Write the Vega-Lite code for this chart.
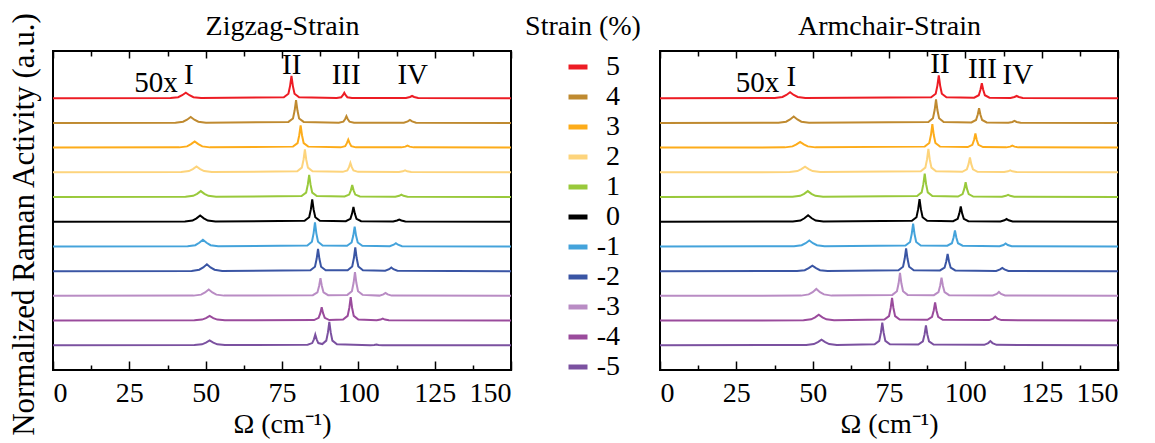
{
 "$schema": "https://vega.github.io/schema/vega-lite/v6.json",
 "padding": {"left": 7, "top": 10, "right": 0, "bottom": 0},
 "datasets": {
  "spec": [
   {"p":"Z","s":"5","x":[0,38.5,41,42.3,43.5,44.7,46,48.5,75.6,77.1,77.65,78.1,78.55,79.1,80.6,92.9,94.4,94.95,95.4,95.85,96.4,97.9,115.6,116.9,117.6,118.3,119.6,150],"y":[10,10.01,10.04,10.12,10.22,10.12,10.04,10.01,10.04,10.18,10.5,10.9,10.5,10.18,10.04,10.01,10.04,10.12,10.22,10.12,10.04,10.01,10.01,10.05,10.09,10.05,10.01,10]},
   {"p":"Z","s":"4","x":[0,40.1,42.6,43.9,45.1,46.3,47.6,50.1,77.1,78.6,79.15,79.6,80.05,80.6,82.1,93.6,95.1,95.65,96.1,96.55,97.1,98.6,114.9,116.2,116.9,117.6,118.9,150],"y":[9,9.01,9.05,9.13,9.24,9.13,9.05,9.01,9.04,9.18,9.51,9.92,9.51,9.18,9.04,9.01,9.05,9.15,9.27,9.15,9.05,9.01,9.01,9.06,9.12,9.06,9.01,9]},
   {"p":"Z","s":"3","x":[0,41.4,43.9,45.2,46.4,47.6,48.9,51.4,78.6,80.1,80.65,81.1,81.55,82.1,83.6,94.2,95.7,96.25,96.7,97.15,97.7,99.2,114.1,115.4,116.1,116.8,118.1,150],"y":[8,8.01,8.05,8.14,8.25,8.14,8.05,8.01,8.04,8.18,8.5,8.9,8.5,8.18,8.04,8.01,8.06,8.18,8.32,8.18,8.06,8.01,8.01,8.04,8.08,8.04,8.01,8]},
   {"p":"Z","s":"2","x":[0,42,44.5,45.8,47,48.2,49.5,52,80,81.5,82.05,82.5,82.95,83.5,85,94.9,96.4,96.95,97.4,97.85,98.4,99.9,113.3,114.6,115.3,116,117.3,150],"y":[7,7.01,7.05,7.13,7.24,7.13,7.05,7.01,7.04,7.19,7.51,7.93,7.51,7.19,7.04,7.02,7.08,7.21,7.38,7.21,7.08,7.02,7.01,7.04,7.08,7.04,7.01,7]},
   {"p":"Z","s":"1","x":[0,43.4,45.9,47.2,48.4,49.6,50.9,53.4,81.4,82.9,83.45,83.9,84.35,84.9,86.4,95.5,97,97.55,98,98.45,99,100.5,112.1,113.4,114.1,114.8,116.1,150],"y":[6,6.01,6.05,6.13,6.24,6.13,6.05,6.01,6.04,6.18,6.5,6.9,6.5,6.18,6.04,6.02,6.1,6.27,6.49,6.27,6.1,6.02,6.01,6.05,6.1,6.05,6.01,6]},
   {"p":"Z","s":"0","x":[0,43.2,45.7,47,48.2,49.4,50.7,53.2,82.4,83.9,84.45,84.9,85.35,85.9,87.4,95.9,97.4,97.95,98.4,98.85,99.4,100.9,111.4,112.7,113.4,114.1,115.4,150],"y":[5,5.01,5.05,5.14,5.25,5.14,5.05,5.01,5.04,5.18,5.5,5.9,5.5,5.18,5.04,5.02,5.12,5.33,5.6,5.33,5.12,5.02,5.01,5.05,5.09,5.05,5.01,5]},
   {"p":"Z","s":"-1","x":[0,44.1,46.6,47.9,49.1,50.3,51.6,54.1,83.3,84.8,85.35,85.8,86.25,86.8,88.3,96.3,97.8,98.35,98.8,99.25,99.8,101.3,110.3,111.6,112.3,113,114.3,150],"y":[4,4.01,4.05,4.15,4.27,4.15,4.05,4.01,4.04,4.19,4.53,4.97,4.53,4.19,4.04,4.03,4.16,4.44,4.8,4.44,4.16,4.03,4.01,4.07,4.13,4.07,4.01,4]},
   {"p":"Z","s":"-2","x":[0,45.4,47.9,49.2,50.4,51.6,52.9,55.4,84.3,85.8,86.35,86.8,87.25,87.8,89.3,96.5,98,98.55,99,99.45,100,101.5,108.8,110.1,110.8,111.5,112.8,150],"y":[3,3.01,3.06,3.15,3.28,3.15,3.06,3.01,3.04,3.18,3.5,3.9,3.5,3.18,3.04,3.04,3.19,3.53,3.96,3.53,3.19,3.04,3.02,3.08,3.15,3.08,3.02,3]},
   {"p":"Z","s":"-3","x":[0,46,48.5,49.8,51,52.2,53.5,56,85.1,86.6,87.15,87.6,88.05,88.6,90.1,96.4,97.9,98.45,98.9,99.35,99.9,101.4,106.9,108.2,108.9,109.6,110.9,150],"y":[2,2.01,2.05,2.14,2.26,2.14,2.05,2.01,2.03,2.14,2.4,2.72,2.4,2.14,2.03,2.04,2.19,2.53,2.96,2.53,2.19,2.04,2.01,2.06,2.12,2.06,2.01,2]},
   {"p":"Z","s":"-4","x":[0,46.3,48.8,50.1,51.3,52.5,53.8,56.3,85.5,87,87.55,88,88.45,89,90.5,95,96.5,97.05,97.5,97.95,98.5,100,106,107.3,108,108.7,110,150],"y":[1,1.01,1.04,1.1,1.19,1.1,1.04,1.01,1.02,1.11,1.3,1.54,1.3,1.11,1.02,1.04,1.19,1.52,1.95,1.52,1.19,1.04,1.01,1.04,1.08,1.04,1.01,1]},
   {"p":"Z","s":"-5","x":[0,46.3,48.8,50.1,51.3,52.5,53.8,56.3,83.4,84.9,85.45,85.9,86.35,86.9,88.2,89.5,90.05,90.5,90.95,91.5,93,103.9,105.2,105.9,106.6,107.9,150],"y":[0,0.01,0.04,0.11,0.2,0.11,0.04,0.01,0.02,0.09,0.24,0.43,0.24,0.09,0.05,0.19,0.52,0.95,0.52,0.19,0.04,0,0.01,0.03,0.01,0,0]},
   {"p":"A","s":"5","x":[0,37.6,40.1,41.4,42.6,43.8,45.1,47.6,88.8,90.3,90.85,91.3,91.75,92.3,93.8,102.9,104.4,104.95,105.4,105.85,106.4,107.9,114.8,116.1,116.8,117.5,118.8,150],"y":[10,10.01,10.05,10.13,10.24,10.13,10.05,10.01,10.04,10.18,10.51,10.92,10.51,10.18,10.04,10.02,10.12,10.34,10.61,10.34,10.12,10.02,10.01,10.05,10.09,10.05,10.01,10]},
   {"p":"A","s":"4","x":[0,38.8,41.3,42.6,43.8,45,46.3,48.8,87.9,89.4,89.95,90.4,90.85,91.4,92.9,102,103.5,104.05,104.5,104.95,105.5,107,114.1,115.4,116.1,116.8,118.1,150],"y":[9,9.01,9.05,9.14,9.26,9.14,9.05,9.01,9.04,9.19,9.52,9.95,9.52,9.19,9.04,9.02,9.12,9.33,9.6,9.33,9.12,9.02,9.01,9.04,9.08,9.04,9.01,9]},
   {"p":"A","s":"3","x":[0,40.9,43.4,44.7,45.9,47.1,48.4,50.9,86.7,88.2,88.75,89.2,89.65,90.2,91.7,100.8,102.3,102.85,103.3,103.75,104.3,105.8,113.4,114.7,115.4,116.1,117.4,150],"y":[8,8.01,8.05,8.13,8.23,8.13,8.05,8.01,8.04,8.19,8.52,8.95,8.52,8.19,8.04,8.02,8.11,8.31,8.57,8.31,8.11,8.02,8.01,8.04,8.08,8.04,8.01,8]},
   {"p":"A","s":"2","x":[0,42.5,45,46.3,47.5,48.7,50,52.5,85.4,86.9,87.45,87.9,88.35,88.9,90.4,99,100.5,101.05,101.5,101.95,102.5,104,112.7,114,114.7,115.4,116.7,150],"y":[7,7.01,7.05,7.13,7.23,7.13,7.05,7.01,7.04,7.19,7.52,7.95,7.52,7.19,7.04,7.02,7.12,7.33,7.6,7.33,7.12,7.02,7.01,7.04,7.08,7.04,7.01,7]},
   {"p":"A","s":"1","x":[0,43.4,45.9,47.2,48.4,49.6,50.9,53.4,84.2,85.7,86.25,86.7,87.15,87.7,89.2,97.6,99.1,99.65,100.1,100.55,101.1,102.6,112,113.3,114,114.7,116,150],"y":[6,6.01,6.05,6.13,6.24,6.13,6.05,6.01,6.04,6.19,6.52,6.95,6.52,6.19,6.04,6.02,6.12,6.33,6.6,6.33,6.12,6.02,6.01,6.05,6.09,6.05,6.01,6]},
   {"p":"A","s":"0","x":[0,43.5,46,47.3,48.5,49.7,51,53.5,82.5,84,84.55,85,85.45,86,87.5,96,97.5,98.05,98.5,98.95,99.5,101,111.5,112.8,113.5,114.2,115.5,150],"y":[5,5.01,5.05,5.14,5.26,5.14,5.05,5.01,5.04,5.18,5.51,5.92,5.51,5.18,5.04,5.02,5.12,5.34,5.62,5.34,5.12,5.02,5.01,5.06,5.11,5.06,5.01,5]},
   {"p":"A","s":"-1","x":[0,43.9,46.4,47.7,48.9,50.1,51.4,53.9,80.4,81.9,82.45,82.9,83.35,83.9,85.4,94.1,95.6,96.15,96.6,97.05,97.6,99.1,111.2,112.5,113.2,113.9,115.2,150],"y":[4,4.01,4.05,4.13,4.24,4.13,4.05,4.01,4.04,4.18,4.51,4.92,4.51,4.18,4.04,4.03,4.13,4.36,4.65,4.36,4.13,4.03,4.01,4.06,4.12,4.06,4.01,4]},
   {"p":"A","s":"-2","x":[0,44.9,47.4,48.7,49.9,51.1,52.4,54.9,78.1,79.6,80.15,80.6,81.05,81.6,83.1,91.7,93.2,93.75,94.2,94.65,95.2,96.7,110.1,111.4,112.1,112.8,114.1,150],"y":[3,3.01,3.04,3.12,3.22,3.12,3.04,3.01,3.04,3.18,3.51,3.92,3.51,3.18,3.04,3.03,3.14,3.39,3.7,3.39,3.14,3.03,3.01,3.07,3.13,3.07,3.01,3]},
   {"p":"A","s":"-3","x":[0,46.2,48.7,50,51.2,52.4,53.7,56.2,76.1,77.6,78.15,78.6,79.05,79.6,81.1,89.7,91.2,91.75,92.2,92.65,93.2,94.7,109,110.3,111,111.7,113,150],"y":[2,2.01,2.06,2.15,2.28,2.15,2.06,2.01,2.04,2.19,2.51,2.93,2.51,2.19,2.04,2.03,2.15,2.41,2.74,2.41,2.15,2.03,2.02,2.08,2.16,2.08,2.02,2]},
   {"p":"A","s":"-4","x":[0,47,49.5,50.8,52,53.2,54.5,57,73.5,75,75.55,76,76.45,77,78.5,87.6,89.1,89.65,90.1,90.55,91.1,92.6,107.8,109.1,109.8,110.5,111.8,150],"y":[1,1.01,1.05,1.13,1.24,1.13,1.05,1.01,1.04,1.18,1.51,1.92,1.51,1.18,1.04,1.03,1.15,1.41,1.74,1.41,1.15,1.03,1.02,1.08,1.16,1.08,1.02,1]},
   {"p":"A","s":"-5","x":[0,47.9,50.4,51.7,52.9,54.1,55.4,57.9,70.3,71.8,72.35,72.8,73.25,73.8,75.3,84.6,86.1,86.65,87.1,87.55,88.1,89.6,106.2,107.5,108.2,108.9,110.2,150],"y":[0,0.01,0.05,0.13,0.23,0.13,0.05,0.01,0.04,0.18,0.51,0.92,0.51,0.18,0.04,0.03,0.16,0.44,0.8,0.44,0.16,0.03,0.02,0.09,0.17,0.09,0.02,0]}
  ],
  "ann": [
   {"p":"Z","t":"50x","x":33.7,"y":10.26},
   {"p":"Z","t":"I","x":44.5,"y":10.59},
   {"p":"Z","t":"II","x":78.2,"y":10.97},
   {"p":"Z","t":"III","x":96.0,"y":10.59},
   {"p":"Z","t":"IV","x":117.8,"y":10.59},
   {"p":"A","t":"50x","x":31.9,"y":10.26},
   {"p":"A","t":"I","x":43.0,"y":10.49},
   {"p":"A","t":"II","x":91.7,"y":11.03},
   {"p":"A","t":"III","x":105.6,"y":10.83},
   {"p":"A","t":"IV","x":117.2,"y":10.56}
  ]
 },
 "hconcat": [
  {
   "width": 458, "height": 319,
   "layer": [
    {
     "data": {"name": "spec"},
     "transform": [{"filter": "datum.p === 'Z'"}, {"flatten": ["x", "y"]}],
     "mark": {"type": "line", "strokeWidth": 2},
     "encoding": {
      "x": {"field": "x", "type": "quantitative", "scale": {"domain": [0, 150], "nice": false},
            "axis": {"orient": "bottom", "title": "Ω (cm⁻¹)", "titlePadding": 3, "values": [0,12.5,25,37.5,50,62.5,75,87.5,100,112.5,125,137.5,150],
                     "labelExpr": "datum.value % 25 === 0 ? datum.label : ''",
                     "tickSize": {"condition": {"test": "datum.value % 25 === 0", "value": -9}, "value": -5}}},
      "y": {"field": "y", "type": "quantitative", "scale": {"domain": [-1, 11.91], "nice": false, "zero": false},
            "axis": {"title": "Normalized Raman Activity (a.u.)", "labels": false, "ticks": false, "titleFontSize": 31, "titlePadding": 13, "titleY": 173}},
      "color": {"field": "s", "type": "nominal", "scale": {"domain": ["5","4","3","2","1","0","-1","-2","-3","-4","-5"], "range": ["#ed1c24","#bf8a30","#fdac1a","#fdd47c","#99c93b","#000000","#44a3db","#3a55a4","#b98cc4","#9a4b9c","#7b51a0"]},
                "legend": {"title": "Strain (%)"}}
     }
    },
    {
     "data": {"name": "ann"},
     "transform": [{"filter": "datum.p === 'Z'"}],
     "mark": {"type": "text", "font": "Liberation Serif", "fontSize": 29, "baseline": "alphabetic", "align": "center", "color": "black"},
     "encoding": {
      "x": {"field": "x", "type": "quantitative", "scale": {"domain": [0, 150], "nice": false},
            "axis": {"orient": "top", "title": "Zigzag-Strain", "titlePadding": 10, "labels": false, "values": [0,12.5,25,37.5,50,62.5,75,87.5,100,112.5,125,137.5,150],
                     "tickSize": {"condition": {"test": "datum.value % 25 === 0", "value": -7}, "value": -5}}},
      "y": {"field": "y", "type": "quantitative"},
      "text": {"field": "t"}
     }
    }
   ],
   "resolve": {"axis": {"x": "independent"}}
  },
  {
   "width": 458, "height": 319,
   "layer": [
    {
     "data": {"name": "spec"},
     "transform": [{"filter": "datum.p === 'A'"}, {"flatten": ["x", "y"]}],
     "mark": {"type": "line", "strokeWidth": 2},
     "encoding": {
      "x": {"field": "x", "type": "quantitative", "scale": {"domain": [0, 150], "nice": false},
            "axis": {"orient": "bottom", "title": "Ω (cm⁻¹)", "titlePadding": 3, "values": [0,12.5,25,37.5,50,62.5,75,87.5,100,112.5,125,137.5,150],
                     "labelExpr": "datum.value % 25 === 0 ? datum.label : ''",
                     "tickSize": {"condition": {"test": "datum.value % 25 === 0", "value": -9}, "value": -5}}},
      "y": {"field": "y", "type": "quantitative", "scale": {"domain": [-1, 11.91], "nice": false, "zero": false}, "axis": null},
      "color": {"field": "s", "type": "nominal", "scale": {"domain": ["5","4","3","2","1","0","-1","-2","-3","-4","-5"], "range": ["#ed1c24","#bf8a30","#fdac1a","#fdd47c","#99c93b","#000000","#44a3db","#3a55a4","#b98cc4","#9a4b9c","#7b51a0"]},
                "legend": {"title": "Strain (%)"}}
     }
    },
    {
     "data": {"name": "ann"},
     "transform": [{"filter": "datum.p === 'A'"}],
     "mark": {"type": "text", "font": "Liberation Serif", "fontSize": 29, "baseline": "alphabetic", "align": "center", "color": "black"},
     "encoding": {
      "x": {"field": "x", "type": "quantitative", "scale": {"domain": [0, 150], "nice": false},
            "axis": {"orient": "top", "title": "Armchair-Strain", "titlePadding": 10, "labels": false, "values": [0,12.5,25,37.5,50,62.5,75,87.5,100,112.5,125,137.5,150],
                     "tickSize": {"condition": {"test": "datum.value % 25 === 0", "value": -7}, "value": -5}}},
      "y": {"field": "y", "type": "quantitative"},
      "text": {"field": "t"}
     }
    }
   ],
   "resolve": {"axis": {"x": "independent"}}
  }
 ],
 "spacing": 139,
 "resolve": {"scale": {"color": "shared"}},
 "config": {
  "font": "Liberation Serif",
  "view": {"stroke": "black", "strokeWidth": 2},
  "axis": {"labelFont": "Liberation Serif", "labelFontSize": 28, "labelColor": "black", "titleFont": "Liberation Serif", "titleFontSize": 28, "titleFontWeight": "normal", "titleColor": "black", "grid": false, "domain": false, "tickColor": "black", "tickWidth": 1.5, "labelPadding": 18},
  "legend": {"orient": "none", "legendX": 472, "legendY": -38, "titleFont": "Liberation Serif", "titleFontSize": 28, "titleFontWeight": "normal", "titleColor": "black", "titleAnchor": "middle", "titlePadding": 12, "labelFont": "Liberation Serif", "labelFontSize": 28, "labelColor": "black", "labelAlign": "right", "labelOffset": 28, "symbolType": "stroke", "symbolStrokeWidth": 5, "symbolSize": 361, "symbolOffset": 19, "rowPadding": 2}
 }
}
